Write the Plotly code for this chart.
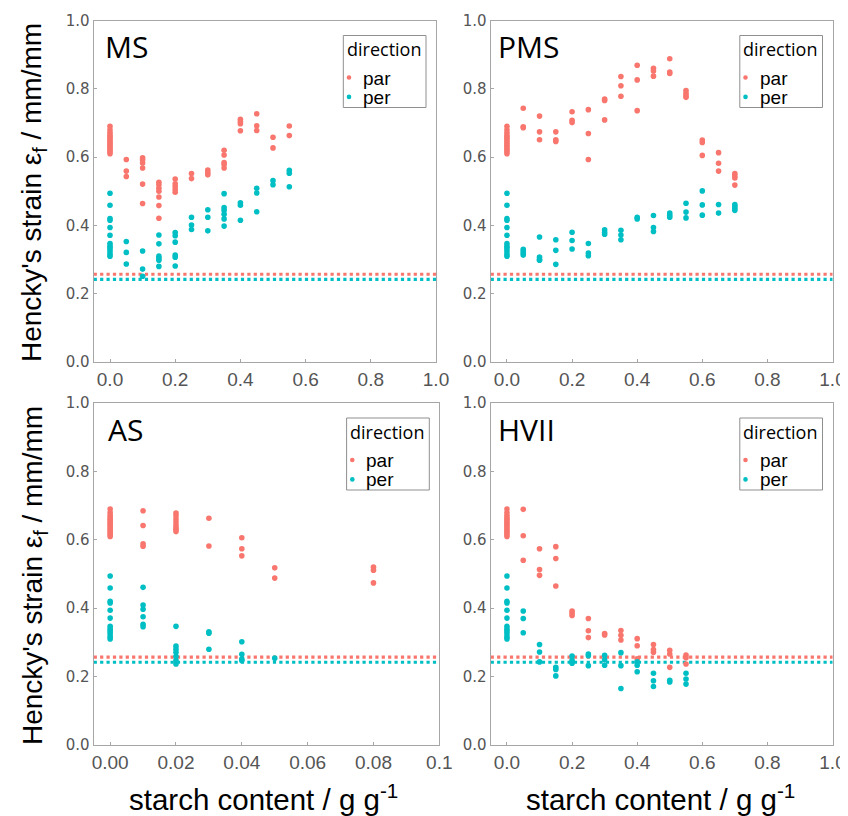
import plotly.graph_objects as go

W, H = 848, 816
OFF = 8  # page body margin of the written html
RED = "#F8766D"
CYAN = "#00BFC4"

# ---- data ----
CTRL_PAR = [0.69, 0.68, 0.672, 0.665, 0.66, 0.655, 0.65, 0.645, 0.64, 0.635, 0.63, 0.625, 0.62, 0.615, 0.61]
CTRL_PER = [0.494, 0.459, 0.420, 0.415, 0.394, 0.371, 0.347, 0.340, 0.335, 0.329, 0.322, 0.315, 0.310]

MS_X = [0.0, 0.05, 0.10, 0.15, 0.20, 0.25, 0.30, 0.35, 0.40, 0.45, 0.50, 0.55]
MS_PAR = [CTRL_PAR,
          [0.593, 0.559, 0.543],
          [0.598, 0.592, 0.583, 0.568, 0.521, 0.464],
          [0.526, 0.519, 0.509, 0.500, 0.483, 0.458, 0.421],
          [0.536, 0.522, 0.514, 0.505, 0.497],
          [0.552, 0.537],
          [0.562, 0.555, 0.548],
          [0.620, 0.606, 0.584, 0.578, 0.568],
          [0.711, 0.704, 0.698, 0.677],
          [0.727, 0.692, 0.678],
          [0.658, 0.627],
          [0.691, 0.663]]
MS_PER = [CTRL_PER,
          [0.353, 0.321, 0.287],
          [0.325, 0.272, 0.251],
          [0.372, 0.346, 0.310, 0.304, 0.298, 0.280],
          [0.379, 0.370, 0.351, 0.313, 0.307, 0.281],
          [0.424, 0.401, 0.388],
          [0.446, 0.424, 0.384],
          [0.493, 0.452, 0.444, 0.433, 0.419, 0.398],
          [0.466, 0.459, 0.415],
          [0.509, 0.495, 0.440],
          [0.531, 0.519],
          [0.561, 0.553, 0.513]]

PMS_X = [0.0, 0.05, 0.10, 0.15, 0.20, 0.25, 0.30, 0.35, 0.40, 0.45, 0.50, 0.55, 0.60, 0.65, 0.70]
PMS_PAR = [CTRL_PAR,
           [0.743, 0.689, 0.686],
           [0.720, 0.674, 0.651],
           [0.674, 0.651, 0.646],
           [0.733, 0.708, 0.701],
           [0.739, 0.669, 0.593],
           [0.770, 0.766, 0.709],
           [0.836, 0.809, 0.778],
           [0.869, 0.826, 0.736],
           [0.860, 0.852, 0.837],
           [0.888, 0.849, 0.845],
           [0.795, 0.787, 0.780, 0.775],
           [0.650, 0.643, 0.605],
           [0.613, 0.582, 0.559],
           [0.552, 0.545, 0.539, 0.518]]
PMS_PER = [CTRL_PER,
           [0.330, 0.324, 0.318, 0.313],
           [0.366, 0.307, 0.300, 0.298],
           [0.358, 0.327, 0.286],
           [0.380, 0.356, 0.331],
           [0.347, 0.319, 0.311],
           [0.387, 0.380, 0.374],
           [0.386, 0.372, 0.358],
           [0.424, 0.419],
           [0.429, 0.394, 0.382],
           [0.436, 0.430, 0.424],
           [0.465, 0.439, 0.422],
           [0.501, 0.460, 0.430],
           [0.461, 0.436],
           [0.461, 0.456, 0.450, 0.444]]

AS_X = [0.0, 0.01, 0.02, 0.03, 0.04, 0.05, 0.08]
AS_PAR = [CTRL_PAR,
          [0.685, 0.642, 0.588, 0.581],
          [0.678, 0.670, 0.661, 0.652, 0.643, 0.636, 0.631, 0.624],
          [0.663, 0.582],
          [0.606, 0.574, 0.553],
          [0.518, 0.488],
          [0.520, 0.511, 0.474]]
AS_PER = [CTRL_PER,
          [0.461, 0.409, 0.397, 0.375, 0.353, 0.346],
          [0.347, 0.289, 0.280, 0.271, 0.259, 0.247, 0.237],
          [0.331, 0.327, 0.280],
          [0.302, 0.265, 0.251, 0.247],
          [0.254],
          []]

HV_X = [0.0, 0.05, 0.10, 0.15, 0.20, 0.25, 0.30, 0.35, 0.40, 0.45, 0.50, 0.55]
HV_PAR = [CTRL_PAR,
          [0.689, 0.612, 0.540],
          [0.574, 0.513, 0.496],
          [0.580, 0.545, 0.465],
          [0.392, 0.386, 0.379],
          [0.370, 0.334, 0.314],
          [0.326, 0.322],
          [0.335, 0.321, 0.307],
          [0.311, 0.290, 0.252],
          [0.294, 0.279, 0.271],
          [0.277, 0.266, 0.227],
          [0.263, 0.255, 0.237]]
HV_PER = [CTRL_PER,
          [0.392, 0.370, 0.328],
          [0.294, 0.272, 0.243],
          [0.227, 0.221, 0.202],
          [0.260, 0.248, 0.239],
          [0.266, 0.261, 0.232],
          [0.262, 0.249, 0.233],
          [0.270, 0.232, 0.165],
          [0.243, 0.233, 0.214],
          [0.210, 0.188, 0.171],
          [0.189, 0.184],
          [0.210, 0.193, 0.178]]

REF_PAR = 0.257
REF_PER = 0.242

PANELS = ["MS", "PMS", "AS", "HVII"]
SERIES = ["par", "per"]
LEGEND_TITLE = "direction"
X_TICKS = [0.0, 0.2, 0.4, 0.6, 0.8, 1.0]
X_TICKTEXT = ["0.0", "0.2", "0.4", "0.6", "0.8", "1.0"]
AS_TICKS = [0.0, 0.02, 0.04, 0.06, 0.08, 0.1]
AS_TICKTEXT = ["0.00", "0.02", "0.04", "0.06", "0.08", "0.1"]
Y_TICKS = [0.0, 0.2, 0.4, 0.6, 0.8, 1.0]
Y_TICKTEXT = ["0.0", "0.2", "0.4", "0.6", "0.8", "1.0"]
X_TITLE = "starch content / g g<sup>-1</sup>"
Y_TITLE = "Hencky's strain ε<sub>f</sub> / mm/mm"


def flat(xs, groups):
    fx, fy = [], []
    for x, g in zip(xs, groups):
        for v in g:
            fx.append(x)
            fy.append(v)
    return fx, fy


def PX(x):
    return (x - OFF) / W


def PY(y):
    return 1 - (y - OFF) / H


data = {
    "MS": (MS_X, MS_PAR, MS_PER),
    "PMS": (PMS_X, PMS_PAR, PMS_PER),
    "AS": (AS_X, AS_PAR, AS_PER),
    "HVII": (HV_X, HV_PAR, HV_PER),
}

# page-pixel geometry of panels (left, right, top, bottom) and label offset
geom = {
    "MS": (93.7, 436.0, 20.5, 362.0, 10.0),
    "PMS": (490.7, 832.5, 20.5, 362.0, 6.6),
    "AS": (93.7, 439.3, 403.0, 745.0, 13.0),
    "HVII": (490.7, 832.5, 403.0, 745.0, 6.6),
}

fig = go.Figure()
layout = dict(
    width=W, height=H,
    margin=dict(l=0, r=0, t=0, b=0, autoexpand=False),
    paper_bgcolor="white", plot_bgcolor="white",
    showlegend=False,
    annotations=[], shapes=[],
)

LINE_C = "#a6a6a6"
TICK_FONT_X = dict(family="Liberation Sans, Arial", size=19, color="#555555")
TICK_FONT_Y = dict(family="DejaVu Sans", size=15, color="#555555")
COLORS = {"par": RED, "per": CYAN}

for i, p in enumerate(PANELS):
    n = "" if i == 0 else str(i + 1)
    xs, par, per = data[p]
    l, r, t, b, lo = geom[p]
    for s, groups in (("par", par), ("per", per)):
        fx, fy = flat(xs, groups)
        fig.add_trace(go.Scatter(
            x=fx, y=fy, mode="markers", name=s,
            marker=dict(color=COLORS[s], size=5.6, line=dict(width=0)),
            xaxis="x" + n, yaxis="y" + n,
        ))
    if p == "AS":
        xr = [-0.005, 0.1]
        tv, tt = AS_TICKS, AS_TICKTEXT
    else:
        xr = [-0.05, 1.0]
        tv, tt = X_TICKS, X_TICKTEXT
    layout["xaxis" + n] = dict(
        domain=[PX(l), PX(r)], anchor="y" + n, range=xr,
        tickvals=tv, ticktext=tt, tickfont=TICK_FONT_X, automargin=False,
        showline=True, mirror=True, linecolor=LINE_C, linewidth=1.3,
        ticks="inside", ticklen=3, tickcolor=LINE_C, tickwidth=1,
        showgrid=False, zeroline=False,
    )
    layout["yaxis" + n] = dict(
        domain=[PY(b), PY(t)], anchor="x" + n, range=[0, 1],
        tickvals=Y_TICKS, ticktext=Y_TICKTEXT, tickfont=TICK_FONT_Y, automargin=False,
        showline=True, mirror=True, linecolor=LINE_C, linewidth=1.3,
        ticks="inside", ticklen=3, tickcolor=LINE_C, tickwidth=1,
        showgrid=False, zeroline=False,
    )
    for yv, col in ((REF_PAR, RED), (REF_PER, CYAN)):
        layout["shapes"].append(dict(
            type="line", xref="x" + n + " domain", yref="y" + n,
            x0=0, x1=1, y0=yv, y1=yv, layer="below",
            line=dict(color=col, width=3.2, dash="dot"),
        ))
    # panel label
    layout["annotations"].append(dict(
        text=p, xref="paper", yref="paper",
        x=PX(l + lo), y=PY(t + 26.2), xanchor="left", yanchor="middle",
        showarrow=False, borderpad=0,
        font=dict(family="Open Sans", size=30, color="black"),
    ))
    # legend box
    bx1 = r - 10
    bx0 = bx1 - 82.7
    by0 = t + 15
    by1 = by0 + 72
    layout["shapes"].append(dict(
        type="rect", xref="paper", yref="paper",
        x0=PX(bx0), x1=PX(bx1), y0=PY(by0), y1=PY(by1),
        line=dict(color="#8f8f8f", width=1), fillcolor="white", layer="above",
    ))
    layout["annotations"].append(dict(
        text=LEGEND_TITLE, xref="paper", yref="paper",
        x=PX(bx0 + 2.4), y=PY(by0 + 13.7), xanchor="left", yanchor="middle",
        showarrow=False, borderpad=0,
        font=dict(family="Open Sans", size=18, color="black"),
    ))
    for k, s in enumerate(SERIES):
        cy = by0 + 42 + 19.4 * k
        cx = bx0 + 5.7
        rad = 2.3
        layout["shapes"].append(dict(
            type="circle", xref="paper", yref="paper",
            x0=PX(cx - rad), x1=PX(cx + rad), y0=PY(cy + rad), y1=PY(cy - rad),
            line=dict(width=0), fillcolor=COLORS[s], layer="above",
        ))
        layout["annotations"].append(dict(
            text=s, xref="paper", yref="paper",
            x=PX(bx0 + 18.7), y=PY(cy + 0.5), xanchor="left", yanchor="middle",
            showarrow=False, borderpad=0,
            font=dict(family="Liberation Sans, Arial", size=19, color="black"),
        ))

for yc in (193, 576):
    layout["annotations"].append(dict(
        text=Y_TITLE, xref="paper", yref="paper", x=PX(34), y=PY(yc),
        xanchor="center", yanchor="middle", textangle=-90, showarrow=False,
        font=dict(family="Liberation Sans, Arial", size=28, color="black"),
    ))
for xc in (263.4, 660.4):
    layout["annotations"].append(dict(
        text=X_TITLE, xref="paper", yref="paper", x=PX(xc), y=PY(797),
        xanchor="center", yanchor="middle", showarrow=False,
        font=dict(family="Liberation Sans, Arial", size=29.5, color="black"),
    ))

fig.update_layout(**layout)
fig.write_html("out.html")
